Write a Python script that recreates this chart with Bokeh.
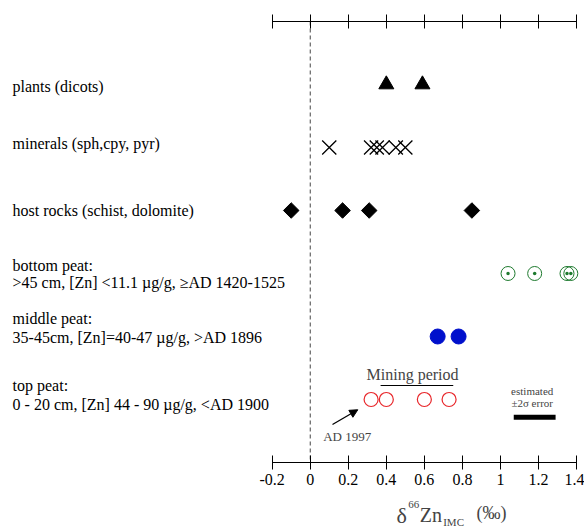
import math
from bokeh.plotting import figure
from bokeh.models import (Range1d, LinearAxis, FixedTicker, Label, Arrow, NormalHead)
from bokeh.embed import file_html
from bokeh.resources import INLINE

# ---------------- data ----------------
row_labels = [
    ["plants (dicots)"],
    ["minerals (sph,cpy, pyr)"],
    ["host rocks (schist, dolomite)"],
    ["bottom peat:", ">45 cm, [Zn] <11.1 \u00b5g/g, \u2265AD 1420-1525"],
    ["middle peat:", "35-45cm, [Zn]=40-47 \u00b5g/g, >AD 1896"],
    ["top peat:", "0 - 20 cm, [Zn] 44 - 90 \u00b5g/g, <AD 1900"],
]
row_pos = [1, 2, 3, 4, 5, 6]

plants = [0.40, 0.59]
minerals = [0.10, 0.32, 0.35, 0.38, 0.45, 0.50]
host_rocks = [-0.10, 0.17, 0.31, 0.85]
bottom_peat = [1.04, 1.18, 1.35, 1.37]
middle_peat = [0.67, 0.78]
top_peat = [0.32, 0.40, 0.60, 0.73]

tick_values = [-0.2, 0, 0.2, 0.4, 0.6, 0.8, 1.0, 1.2, 1.4]
tick_labels = ["-0.2", "0", "0.2", "0.4", "0.6", "0.8", "1", "1.2", "1.4"]
axis_bounds = (-0.2, 1.4)
row_span = (0, 7)

mining_period = [0.37, 0.752]
error_bar = [1.07, 1.29]

FONT = "Liberation Serif"

# frame covers the whole canvas; axes are fixed inside it
p = figure(width=584, height=530, output_backend="svg", toolbar_location=None,
           x_range=Range1d(-1.6285, 1.442), y_range=Range1d(8.0794, -0.3333),
           x_axis_location=None, y_axis_location=None,
           min_border_left=0, min_border_right=0,
           min_border_top=0, min_border_bottom=0)
p.outline_line_color = None
p.xgrid.visible = False
p.ygrid.visible = False
p.background_fill_color = "white"
p.border_fill_color = "white"

ticker = FixedTicker(ticks=tick_values)
bottom = LinearAxis(ticker=ticker, bounds=axis_bounds, fixed_location=row_span[1])
bottom.major_label_overrides = {v: s for v, s in zip(tick_values, tick_labels)}
bottom.major_label_text_font = FONT
bottom.major_label_text_font_size = "16px"
bottom.major_label_text_color = "black"
bottom.major_label_standoff = 5
top = LinearAxis(ticker=ticker, bounds=axis_bounds, fixed_location=row_span[0])
top.major_label_overrides = {v: "" for v in tick_values}
top.major_label_text_font = FONT
top.major_label_text_font_size = "16px"
for ax in (bottom, top):
    ax.axis_line_color = "black"
    ax.axis_line_width = 1
    ax.major_tick_line_color = "black"
    ax.major_tick_in = 7
    ax.major_tick_out = 7
    ax.minor_tick_line_color = None
p.add_layout(bottom, "below")
p.add_layout(top, "above")

# dashed zero line between the two axes
p.line([0, 0], list(row_span), line_color="#444444", line_dash="4 3", line_width=1)

# markers
p.scatter(plants, [row_pos[0]] * len(plants), marker="triangle", size=15,
          fill_color="black", line_color="black")
p.scatter(minerals, [row_pos[1]] * len(minerals), marker="x", size=20,
          line_color="black", line_width=1.3)
p.scatter(host_rocks, [row_pos[2]] * len(host_rocks), marker="square", size=11,
          angle=math.pi / 4, fill_color="black", line_color="black")
p.scatter(bottom_peat, [row_pos[3]] * len(bottom_peat), marker="circle_dot", size=14,
          fill_color=None, line_color="#1e7a2e", line_width=1)
p.scatter(middle_peat, [row_pos[4]] * len(middle_peat), marker="circle", size=15,
          fill_color="#0010cc", line_color="#0010cc")
p.scatter(top_peat, [row_pos[5]] * len(top_peat), marker="circle", size=14,
          fill_color=None, line_color="#e8262a", line_width=1.2)

# row labels
LX = -1.565
label_y = [[1.032], [1.941], [3.0], [3.873, 4.138], [4.719, 5.021], [5.778, 6.079]]
for lines, ys in zip(row_labels, label_y):
    for t, y in zip(lines, ys):
        p.add_layout(Label(x=LX, y=y, text=t, text_font=FONT, text_font_size="16px",
                           text_baseline="middle", text_align="left", text_color="black"))

# mining period
p.add_layout(Label(x=0.538, y=5.60, text="Mining period", text_font=FONT,
                   text_font_size="16px", text_align="center", text_baseline="middle"))
p.line(mining_period, [5.778, 5.778], line_color="black", line_width=1)

# AD 1997 arrow
p.add_layout(Arrow(end=NormalHead(size=8, fill_color="black", line_color="black"),
                   x_start=0.117, y_start=6.397, x_end=0.250, y_end=6.163,
                   line_color="black", line_width=1.3))
p.add_layout(Label(x=0.068, y=6.587, text="AD 1997", text_font=FONT,
                   text_font_size="13px", text_align="left", text_baseline="middle"))

# error bar
p.add_layout(Label(x=1.167, y=5.868, text="estimated", text_font=FONT,
                   text_font_size="11px", text_align="center", text_baseline="middle"))
p.add_layout(Label(x=1.167, y=6.052, text="\u00b12\u03c3 error", text_font=FONT,
                   text_font_size="11px", text_align="center", text_baseline="middle"))
p.line(error_bar, [6.28, 6.28], line_color="black", line_width=5)

# axis title pieces
p.add_layout(Label(x=0.4537, y=7.841, text="\u03b4", text_font=FONT, text_font_size="22px",
                   text_baseline="alphabetic"))
p.add_layout(Label(x=0.515, y=7.667, text="66", text_font=FONT, text_font_size="11px",
                   text_baseline="alphabetic"))
p.add_layout(Label(x=0.576, y=7.841, text="Zn", text_font=FONT, text_font_size="20px",
                   text_baseline="alphabetic"))
p.add_layout(Label(x=0.699, y=7.952, text="IMC", text_font=FONT, text_font_size="11px",
                   text_baseline="alphabetic"))
p.add_layout(Label(x=0.874, y=7.80, text="(\u2030)", text_font=FONT, text_font_size="18px",
                   text_baseline="alphabetic"))

open("out.html", "w").write(file_html(p, INLINE))
